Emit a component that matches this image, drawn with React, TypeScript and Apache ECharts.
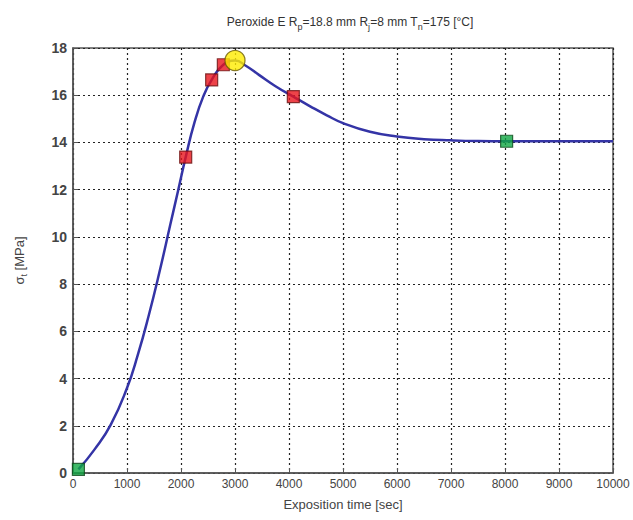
import React, { useEffect, useRef } from "react";
import * as echarts from "echarts";

const curveTimes = [100, 400, 700, 1000, 1200, 1400, 1600, 1800, 1950, 2087, 2250, 2413, 2568, 2784, 3000, 3200, 3450, 3750, 4080, 4400, 4700, 5000, 5500, 6000, 6500, 7000, 7500, 8030, 9000, 10000];
const curveValues = [0.15, 1.0, 2.05, 3.6, 5.0, 6.65, 8.5, 10.5, 12.0, 13.38, 14.85, 15.95, 16.65, 17.29, 17.47, 17.25, 16.85, 16.38, 15.94, 15.52, 15.15, 14.82, 14.45, 14.25, 14.14, 14.09, 14.06, 14.05, 14.05, 14.05];

const greenTimes = [100, 8030];
const greenValues = [0.15, 14.05];
const redTimes = [2087, 2568, 2784, 4080];
const redValues = [13.38, 16.65, 17.29, 15.94];
const peakTime = [3000];
const peakValue = [17.47];

const xTicks = ["0", "1000", "2000", "3000", "4000", "5000", "6000", "7000", "8000", "9000", "10000"];

export default function App() {
  const ref = useRef<HTMLDivElement>(null);
  useEffect(() => {
    if (!ref.current) return;
    const chart = echarts.init(ref.current, undefined, { renderer: "svg" });
    const font = "Liberation Sans, Arial, sans-serif";
    const dotted = { color: "#222", width: 1.2, type: [2, 3] as any };
    chart.setOption({
      animation: false,
      backgroundColor: "#fff",
      title: {
        text: "{a|Peroxide E R}{s|p}{a|=18.8 mm R}{s|j}{a|=8 mm T}{s|n}{a|=175 [°C]}",
        left: 345,
        top: 9,
        textAlign: "center",
        textStyle: {
          fontWeight: "normal",
          rich: {
            a: { fontSize: 12, color: "#333", fontFamily: font, lineHeight: 16, fontWeight: "normal" },
            s: { fontSize: 9, color: "#333", fontFamily: font, padding: [9, 0, 0, 0], lineHeight: 16, fontWeight: "normal" },
          },
        },
      },
      grid: {
        left: 73,
        right: 20,
        top: 48,
        bottom: 47,
        show: true,
        borderColor: "#555",
        borderWidth: 1.5,
        backgroundColor: "#fff",
      },
      xAxis: {
        type: "value",
        min: 0,
        max: 10000,
        interval: 1000,
        name: "Exposition time [sec]",
        nameLocation: "middle",
        nameGap: 25,
        nameTextStyle: { fontSize: 13, color: "#444", fontFamily: font },
        axisLine: { show: true, lineStyle: { color: "#555", width: 1.5 } },
        axisTick: { show: true, inside: true, length: 5, lineStyle: { color: "#555" } },
        axisLabel: {
          fontSize: 12,
          color: "#444",
          fontFamily: font,
          margin: 5,
          formatter: (v: number) => xTicks[Math.round(v / 1000)] ?? String(v),
        },
        splitLine: { show: true, lineStyle: dotted },
      },
      yAxis: {
        type: "value",
        min: 0,
        max: 18,
        interval: 2,
        name: "{a|σ}{s|t}{a| [MPa]}",
        nameLocation: "middle",
        nameGap: 46,
        nameRotate: 90,
        nameTextStyle: {
          rich: {
            a: { fontSize: 13, color: "#444", fontFamily: font, lineHeight: 16 },
            s: { fontSize: 9, color: "#444", fontFamily: font, padding: [9, 0, 0, 0], lineHeight: 16 },
          },
        },
        axisLine: { show: true, lineStyle: { color: "#555", width: 1.5 } },
        axisTick: { show: true, inside: true, length: 5, lineStyle: { color: "#555" } },
        axisLabel: { fontSize: 14, color: "#444", fontFamily: font, margin: 6, fontWeight: "bold" },
        splitLine: { show: true, lineStyle: dotted },
      },
      series: [
        {
          type: "line",
          data: curveTimes.map((t, i) => [t, curveValues[i]]),
          showSymbol: false,
          smooth: 0.5,
          lineStyle: { color: "#3434a6", width: 2.5 },
          z: 2,
        },
        {
          type: "scatter",
          data: redTimes.map((t, i) => [t, redValues[i]]),
          symbol: "rect",
          symbolSize: 12,
          itemStyle: { color: "#e8141c", borderColor: "#6a1010", borderWidth: 1.2 },
          z: 3,
        },
        {
          type: "scatter",
          data: greenTimes.map((t, i) => [t, greenValues[i]]),
          symbol: "rect",
          symbolSize: 12,
          itemStyle: { color: "#10a844", borderColor: "#0d4a1c", borderWidth: 1.2 },
          z: 3,
        },
        {
          type: "scatter",
          data: peakTime.map((t, i) => [t, peakValue[i]]),
          symbol: "circle",
          symbolSize: 20,
          itemStyle: { color: "#ffec00", borderColor: "#6a5a00", borderWidth: 1.2 },
          z: 4,
        },
      ],
    });
    return () => chart.dispose();
  }, []);
  return (
    <div
      ref={ref}
      style={{ position: "fixed", left: 0, top: 0, width: 633, height: 520, background: "#fff" }}
    />
  );
}
